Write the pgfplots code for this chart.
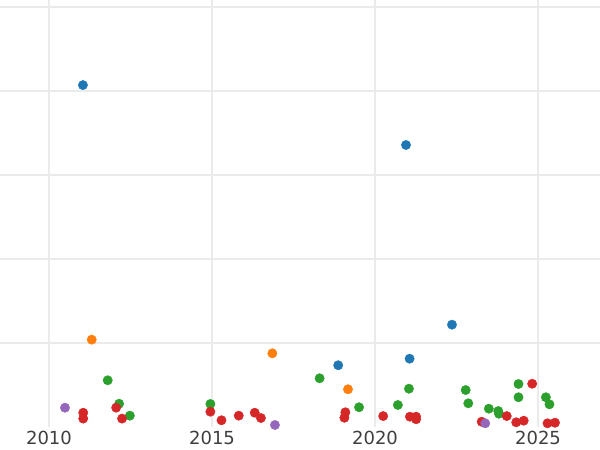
\documentclass[border=0pt]{standalone}
\usepackage{fontspec}
\setmainfont{DejaVu Sans}
\usepackage{pgfplots}
\pgfplotsset{compat=1.18}
\definecolor{tblue}{HTML}{1F77B4}
\definecolor{torange}{HTML}{FF7F0E}
\definecolor{tgreen}{HTML}{2CA02C}
\definecolor{tred}{HTML}{D62728}
\definecolor{tpurple}{HTML}{9467BD}
\definecolor{gridc}{HTML}{EBEBEB}
\definecolor{tickc}{HTML}{3F3F3F}
\pgfplotsset{dot/.style={only marks, mark=*, mark size=4.7pt, draw=#1, fill=#1, mark options={draw=#1, fill=#1}}}
\begin{document}
\begin{tikzpicture}
\begin{axis}[
  at={(0,23bp)}, anchor=south west,
  scale only axis, width=600bp, height=427bp,
  xmin=2008.497, xmax=2026.90,
  ymin=0, ymax=5.083,
  axis line style={draw=none},
  major tick length=0pt,
  xtick={2010,2015,2020,2025},
  ytick={1,2,3,4,5},
  yticklabels={},
  xticklabel style={font=\fontsize{18bp}{20bp}\selectfont, text=tickc, /pgf/number format/1000 sep={}, yshift=-1bp},
  /pgf/number format/assume math mode=true,
  xmajorgrids, ymajorgrids,
  x grid style={gridc, line width=1.6bp},
  y grid style={gridc, line width=1.2bp},
]
\addplot[dot=tblue] coordinates {
(2011.04,4.07) (2020.95,3.357) (2018.87,0.735) (2021.06,0.813) (2022.36,1.218)
};
\addplot[dot=torange] coordinates {
(2011.31,1.04) (2016.85,0.877) (2019.17,0.449)
};
\addplot[dot=tgreen] coordinates {
(2011.80,0.556) (2012.15,0.277) (2012.48,0.135) (2014.95,0.274)
(2018.30,0.58) (2019.51,0.235) (2020.70,0.262) (2021.04,0.456)
(2022.78,0.44) (2022.86,0.282) (2023.49,0.218) (2023.78,0.19) (2023.80,0.158)
(2024.40,0.512) (2024.40,0.354) (2025.24,0.354) (2025.35,0.27)
};
\addplot[dot=tred] coordinates {
(2011.05,0.17) (2011.05,0.10) (2012.06,0.23) (2012.24,0.10)
(2014.95,0.182) (2015.29,0.08) (2015.82,0.135) (2016.31,0.17) (2016.50,0.107)
(2019.09,0.175) (2019.06,0.11) (2020.25,0.13) (2021.07,0.123) (2021.26,0.123) (2021.26,0.092)
(2023.27,0.063) (2024.04,0.13) (2024.33,0.056) (2024.56,0.075) (2024.82,0.515)
(2025.29,0.044) (2025.52,0.051)
};
\addplot[dot=tpurple] coordinates {
(2010.49,0.23) (2016.93,0.024) (2023.38,0.044)
};
\end{axis}
\pgfresetboundingbox
\path[use as bounding box] (0,0) rectangle (600bp,450bp);
\end{tikzpicture}
\end{document}
